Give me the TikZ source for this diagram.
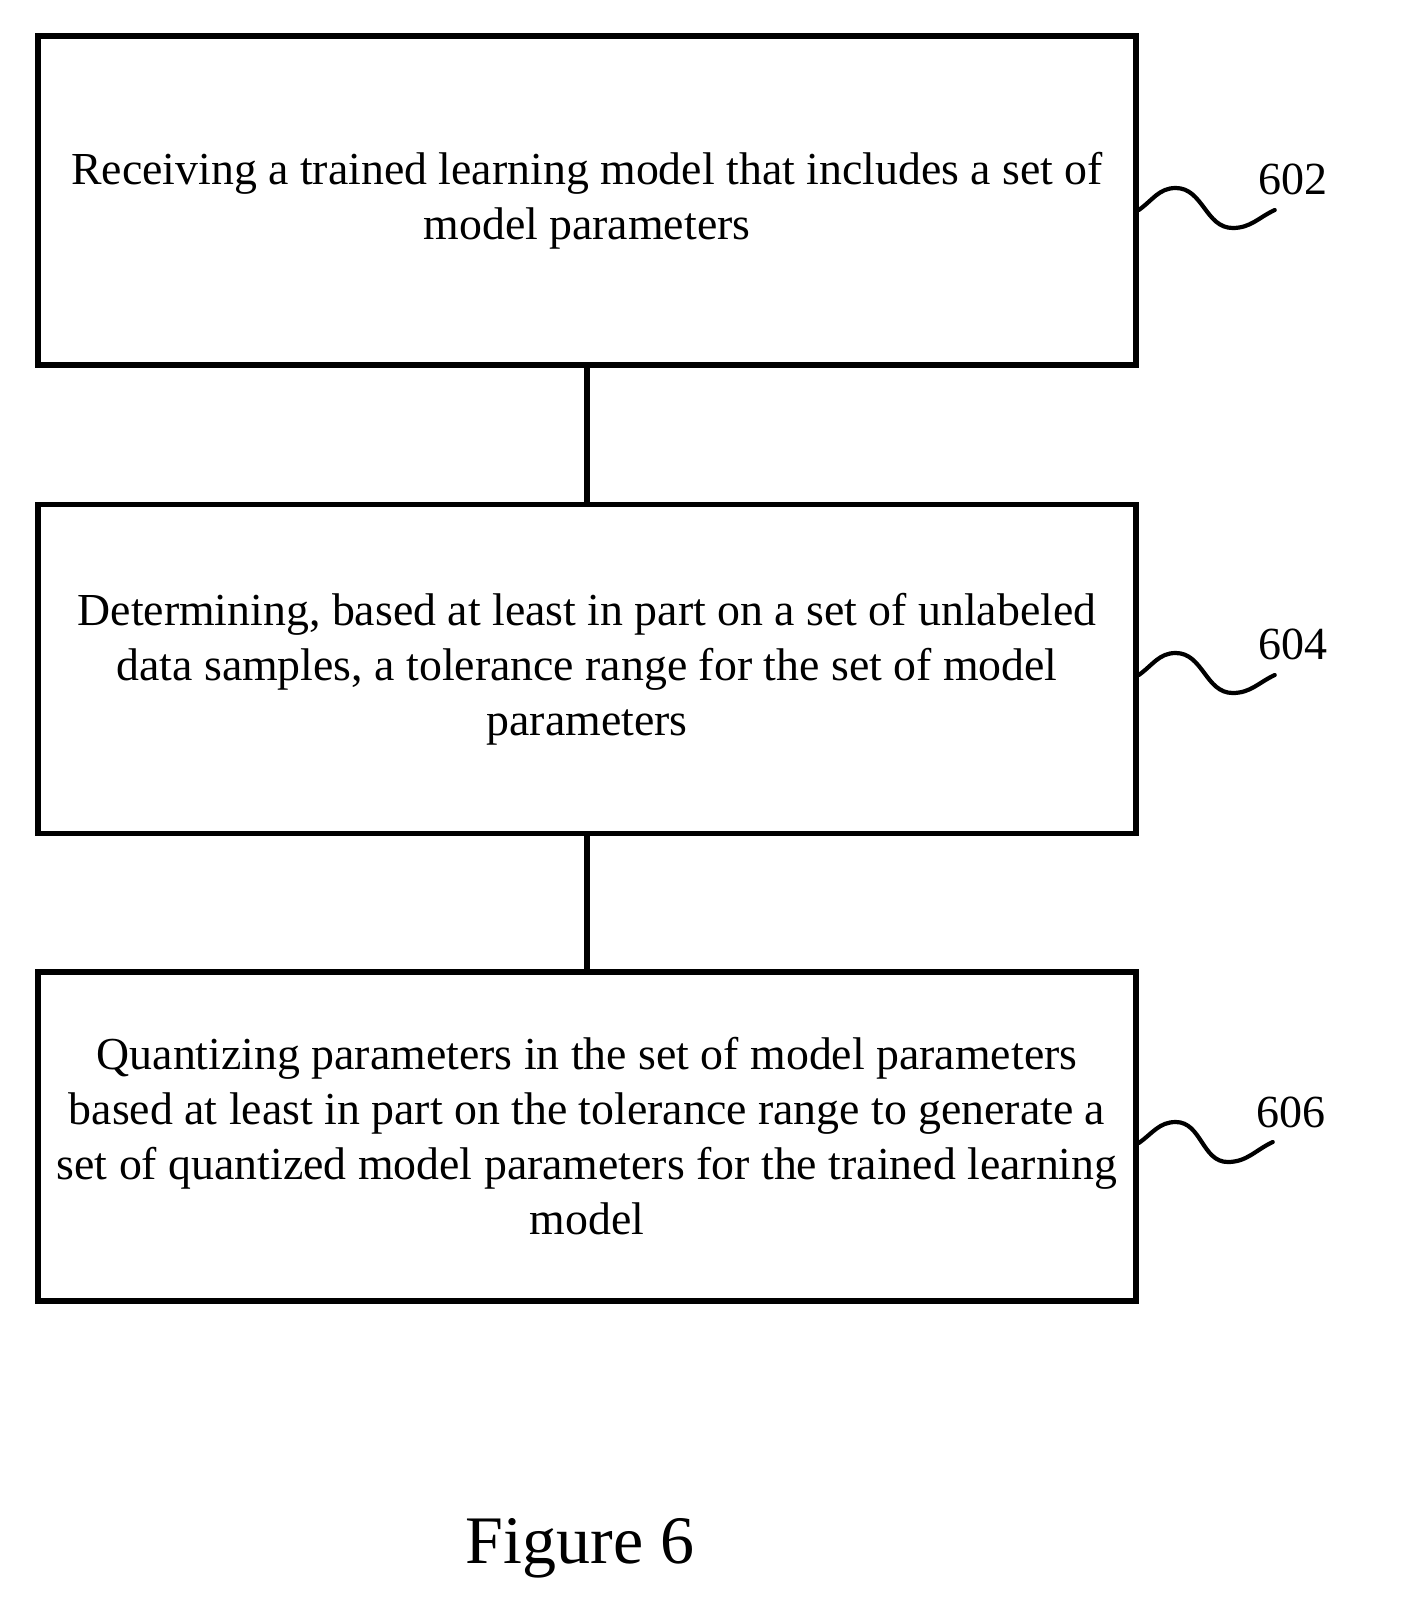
\documentclass[tikz,border=0pt]{standalone}
\usepackage{fontspec}
\setmainfont{Liberation Serif}
\usetikzlibrary{calc}
\tikzset{
  stepbox/.style={draw, line width=5.5pt, minimum width=1098pt, minimum height=329pt,
    align=center, inner sep=0pt, font=\fontsize{45.8}{55}\selectfont},
  link/.style={line width=5.5pt},
  squig/.style={line width=4.2pt, line cap=round},
  refnum/.style={inner sep=0pt, font=\fontsize{46}{50}\selectfont}
}

\begin{document}
\begin{tikzpicture}[x=1pt, y=1pt]
			%%%%% START %%%%%
			\useasboundingbox (0, 0) rectangle (1411, -1622);
			
			\node[stepbox] (box1) at (587, -200.5) {Receiving a trained learning model that includes a set of\\model parameters};
			\node[stepbox] (box2) at (587, -669) {Determining, based at least in part on a set of unlabeled\\data samples, a tolerance range for the set of model\\parameters};
			\node[stepbox] (box3) at (587, -1136.5) {Quantizing parameters in the set of model parameters\\based at least in part on the tolerance range to generate a\\set of quantized model parameters for the trained learning\\model};
			
			\draw[link] (box1.south) -- (box2.north);
			\draw[link] (box2.south) -- (box3.north);
			
			\node[refnum] (lbl602) at (1293, -179) {602};
			\node[refnum] (lbl604) at (1293, -644) {604};
			\node[refnum] (lbl606) at (1291, -1112) {606};
			
			\draw[squig] ([yshift=-9.5pt]box1.east) to[out=35, in=180] ++(37, 22) to[out=0, in=180] ++(57, -40) to[out=0, in=205] ++(42, 18);
			\draw[squig] ([yshift=-6pt]box2.east) to[out=35, in=180] ++(37, 22) to[out=0, in=180] ++(57, -40) to[out=0, in=205] ++(42, 18);
			\draw[squig] ([yshift=-6.5pt]box3.east) to[out=35, in=180] ++(37, 21) to[out=0, in=180] ++(52, -40) to[out=0, in=205] ++(45, 20);
			
			\node[inner sep=0pt, anchor=base, font=\fontsize{68}{70}\selectfont] (caption) at (580, -1563) {Figure 6};
			%%%%% END %%%%%
\end{tikzpicture}
\end{document}
